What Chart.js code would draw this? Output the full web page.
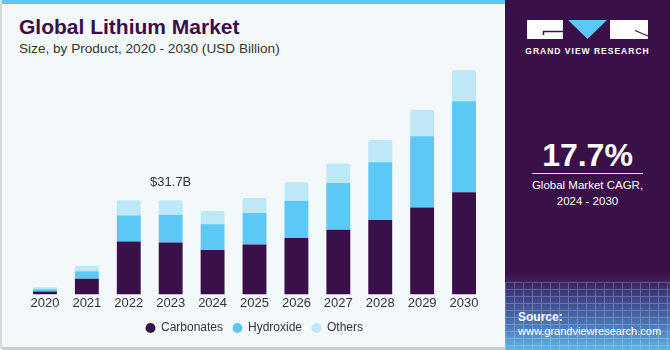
<!DOCTYPE html>
<html>
<head>
<meta charset="utf-8">
<script src="https://cdn.jsdelivr.net/npm/chart.js@4"></script>
<style>
  body { margin: 0; width: 670px; height: 350px; overflow: hidden; font-family: "Liberation Sans", Arial, sans-serif; }
  #left { position: absolute; left: 0; top: 0; width: 505px; height: 350px; background: #f3f8fb; border-left: 2px solid #d4d9dd; border-bottom: 3px solid #c9cdd1; box-sizing: border-box; border-bottom-left-radius: 4px; }
  #stripe { position: absolute; left: 0; top: 0; width: 505px; height: 4px; background: #5bc8f5; }
  #title { position: absolute; left: 17px; top: 15px; font-size: 21px; font-weight: bold; color: #3a1048; white-space: nowrap; }
  #subtitle { position: absolute; left: 17px; top: 41px; font-size: 13.6px; color: #333; white-space: nowrap; }
  #chartbox { position: absolute; left: 2px; top: 50px; width: 503px; height: 297px; }
  #right { position: absolute; left: 505px; top: 0; width: 165px; height: 350px;
    background: linear-gradient(to bottom, #3a1048 0%, #3a1048 78%, #3d3c80 84%, #4a78b8 93%, #5cb6e6 100%); }
  #grid { position: absolute; left: 0; top: 282px; width: 165px; height: 68px; opacity: 0.22;
    background-image: linear-gradient(to right, #fff 1px, transparent 1px), linear-gradient(to bottom, #fff 1px, transparent 1px);
    background-size: 9px 7px; }
  #brand { position: absolute; left: 0; top: 46px; width: 165px; text-align: center; color: #fff; font-size: 8.5px; font-weight: bold; letter-spacing: 1px; }
  #cagr { position: absolute; left: 0; top: 137px; width: 165px; text-align: center; color: #fff; font-size: 32px; font-weight: bold; }
  #rule { position: absolute; left: 27px; top: 173px; width: 111px; height: 1px; background: #ddd; }
  #cagrtxt { position: absolute; left: 0; top: 177px; width: 165px; text-align: center; color: #fff; font-size: 11.5px; line-height: 16px; }
  #source { position: absolute; left: 13px; top: 310px; color: #fff; font-size: 11px; line-height: 14px; }
  #source b { font-size: 12px; }
</style>
</head>
<body>
<div id="left">
  <div id="stripe"></div>
  <div id="title">Global Lithium Market</div>
  <div id="subtitle">Size, by Product, 2020 - 2030 (USD Billion)</div>
  <div id="chartbox"><canvas id="chart"></canvas></div>
</div>
<div id="right">
  <div id="grid"></div>
  <svg style="position:absolute;left:0;top:0" width="165" height="45">
    <rect x="22" y="20" width="36" height="19" fill="#fff"/>
    <line x1="38" y1="31.5" x2="58" y2="31.5" stroke="#3a1048" stroke-width="1.5"/>
    <line x1="38.5" y1="31" x2="38.5" y2="35" stroke="#3a1048" stroke-width="1.5"/>
    <polygon points="63,20 102,20 82.5,39" fill="#5bc8f5"/>
    <rect x="105" y="20" width="38" height="19" fill="#fff"/>
    <line x1="130" y1="30.5" x2="143" y2="36" stroke="#3a1048" stroke-width="1.2"/>
  </svg>
  <div id="brand">GRAND VIEW RESEARCH</div>
  <div id="cagr">17.7%</div>
  <div id="rule"></div>
  <div id="cagrtxt">Global Market CAGR,<br>2024 - 2030</div>
  <div id="source"><b>Source:</b><br>www.grandviewresearch.com</div>
</div>
<script>
const years = ['2020', '2021', '2022', '2023', '2024', '2025', '2026', '2027', '2028', '2029', '2030'];
const carbonates = [1.0, 5.3, 17.8, 17.5, 15.0, 16.8, 19.0, 21.8, 25.1, 29.3, 34.4];
const hydroxide = [0.7, 2.5, 8.8, 9.3, 8.6, 10.6, 12.6, 15.7, 19.4, 24.0, 30.7];
const others = [0.7, 1.8, 5.1, 4.9, 4.5, 5.1, 6.2, 6.6, 7.5, 8.9, 10.4];
const calloutIndex = 3;
const calloutText = '$31.7B';

// draws the single value callout above one bar
const calloutPlugin = {
  id: 'callout',
  afterDatasetsDraw(chart) {
    const ctx = chart.ctx;
    const total = carbonates[calloutIndex] + hydroxide[calloutIndex] + others[calloutIndex];
    const x = chart.scales.x.getPixelForValue(calloutIndex);
    const y = chart.scales.y.getPixelForValue(total);
    ctx.save();
    ctx.font = '13px "Liberation Sans", Arial, sans-serif';
    ctx.fillStyle = '#333';
    ctx.textAlign = 'center';
    ctx.textBaseline = 'middle';
    ctx.fillText(calloutText, x, y - 18);
    ctx.restore();
  }
};

new Chart(document.getElementById('chart'), {
  type: 'bar',
  data: {
    labels: years,
    datasets: [
      { label: 'Carbonates', data: carbonates, backgroundColor: '#3a1048' },
      { label: 'Hydroxide', data: hydroxide, backgroundColor: '#5bc8f5' },
      { label: 'Others', data: others, backgroundColor: '#bde8f8', borderRadius: { topLeft: 2, topRight: 2 }, borderSkipped: 'bottom' }
    ]
  },
  options: {
    responsive: true,
    maintainAspectRatio: false,
    animation: false,
    datasets: { bar: { barPercentage: 0.57, categoryPercentage: 1 } },
    layout: { padding: { left: 20, right: 22, top: 7, bottom: 3 } },
    plugins: {
      legend: {
        position: 'bottom',
        labels: {
          usePointStyle: true,
          pointStyle: 'circle',
          boxWidth: 9,
          boxHeight: 7,
          padding: 10,
          color: '#333',
          font: { family: '"Liberation Sans", Arial, sans-serif', size: 12 }
        }
      },
      tooltip: { enabled: false }
    },
    scales: {
      x: {
        stacked: true,
        grid: { display: false, drawTicks: false },
        border: { display: false },
        ticks: { color: '#333', padding: 1, font: { family: '"Liberation Sans", Arial, sans-serif', size: 13 } }
      },
      y: {
        stacked: true,
        display: false,
        min: 0,
        max: 80
      }
    }
  },
  plugins: [calloutPlugin]
});
</script>
</body>
</html>
